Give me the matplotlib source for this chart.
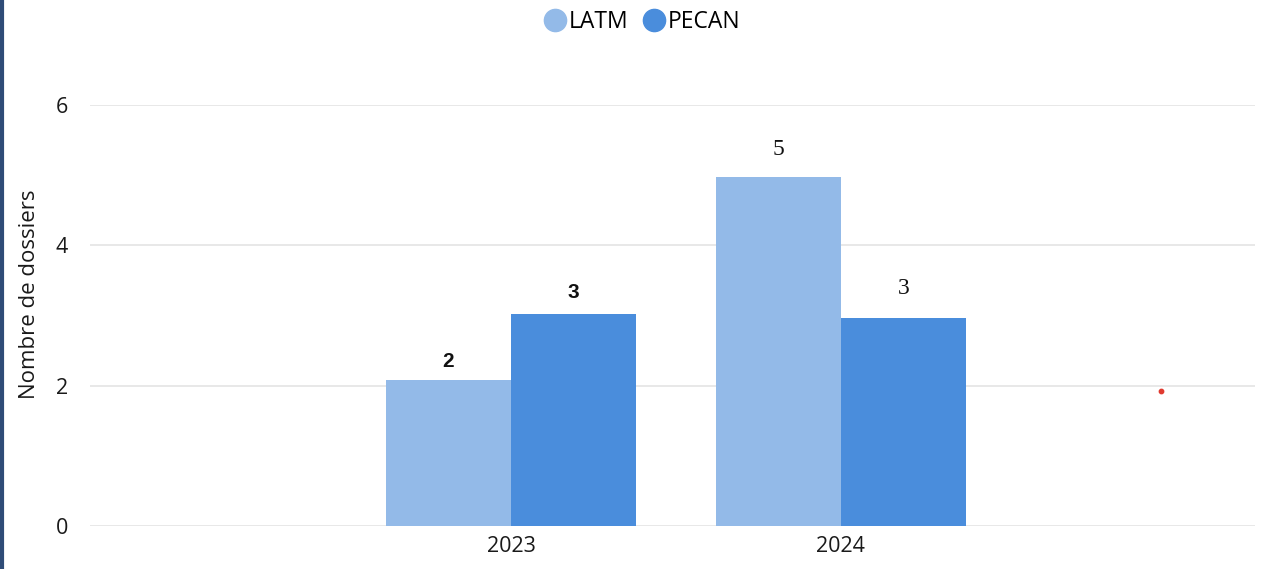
import matplotlib.pyplot as plt
from matplotlib.lines import Line2D
import numpy as np

# Data
years = ['2023', '2024']
latm = [2.08, 4.97]
pecan = [3.02, 2.96]
latm_labels = ['2', '5']
pecan_labels = ['3', '3']
marker_x = [1.97]
marker_y = [1.92]

c_latm = '#93BAE8'
c_pecan = '#4A8DDC'

fig = plt.figure(figsize=(12.71, 5.69), dpi=100)
ax = fig.add_axes([0.0708, 0.0756, 0.9166, 0.7399])

x = np.arange(len(years))
w = 0.379
ax.bar(x - w / 2, latm, width=w, color=c_latm, zorder=3)
ax.bar(x + w / 2, pecan, width=w, color=c_pecan, zorder=3)

# value labels (first year in sans, second in serif, as in the source)
fams = [['Liberation Sans'], ['Liberation Serif']]
weights = ['bold', 'normal']
sizes = [15, 17]
offs = [[19, 22], [28, 30]]
for i in range(len(years)):
    ax.annotate(latm_labels[i], (x[i] - w / 2, latm[i]), xytext=(0, offs[i][0]),
                textcoords='offset pixels', ha='center', va='center',
                fontsize=sizes[i], family=fams[i], fontweight=weights[i], color='#111111')
    ax.annotate(pecan_labels[i], (x[i] + w / 2, pecan[i]), xytext=(0, offs[i][1]),
                textcoords='offset pixels', ha='center', va='center',
                fontsize=sizes[i], family=fams[i], fontweight=weights[i], color='#111111')

ax.scatter(marker_x, marker_y, s=10, color='#E03A2F', zorder=4)

ax.set_xlim(-1.276, 2.255)
ax.set_ylim(0, 6)
ax.set_yticks([0, 2, 4, 6])
ax.set_xticks(x)
ax.set_xticklabels(years)
ax.grid(axis='y', color='#E6E6E6', linewidth=1.3, zorder=0)
for s in ax.spines.values():
    s.set_visible(False)
ax.tick_params(length=0, labelsize=15.5, colors='#1a1a1a')
ax.tick_params(axis='x', pad=7)
ax.tick_params(axis='y', pad=16)
for t in ax.get_xticklabels() + ax.get_yticklabels():
    t.set_family('Open Sans')
ax.set_ylabel('Nombre de dossiers', fontsize=16, family='Open Sans', color='#1a1a1a')
ax.yaxis.set_label_coords(-0.043, 0.551)

handles = [Line2D([], [], marker='o', linestyle='', markersize=16, color=c_latm),
           Line2D([], [], marker='o', linestyle='', markersize=16, color=c_pecan)]
fig.legend(handles, ['LATM', 'PECAN'], loc='center', bbox_to_anchor=(0.504, 0.961), ncol=2,
           frameon=False, handletextpad=0.0, columnspacing=0.5, handlelength=1.2,
           prop={'family': 'Open Sans', 'size': 16.5})

# dark left border
fig.add_artist(Line2D([0.0016, 0.0016], [0, 1], transform=fig.transFigure,
                      color='#2F4C77', linewidth=3))

fig.savefig('out.png', dpi=100)
